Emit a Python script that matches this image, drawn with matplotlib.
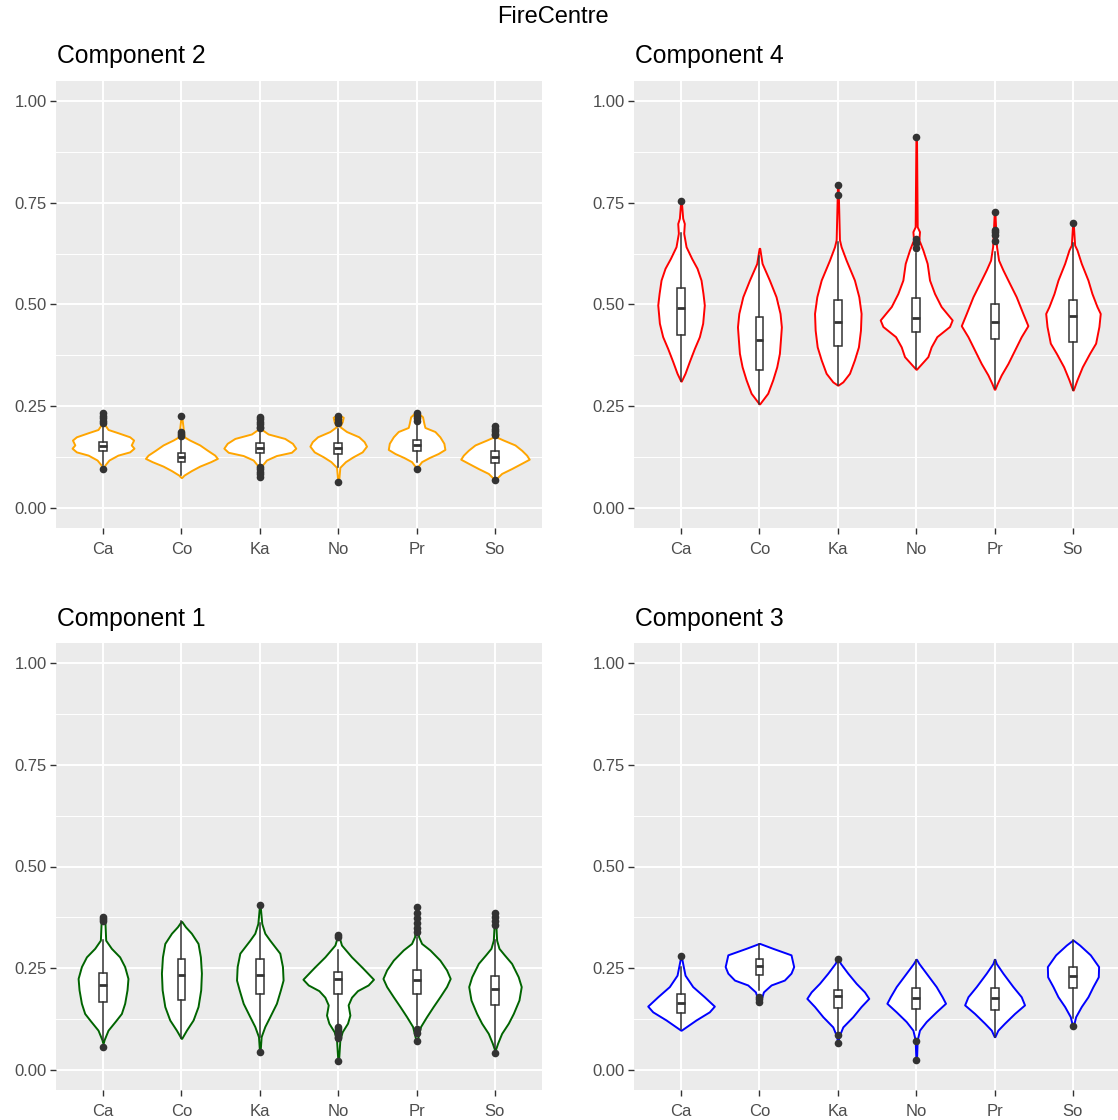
import matplotlib
matplotlib.use("Agg")
import matplotlib.pyplot as plt
import numpy as np

plt.rcParams['font.family'] = ['Liberation Sans', 'DejaVu Sans']

categories = ["Ca", "Co", "Ka", "No", "Pr", "So"]
yticks = [0.00, 0.25, 0.50, 0.75, 1.00]
ytick_labels = ["0.00", "0.25", "0.50", "0.75", "1.00"]

# ---------------- Component 2 (orange) ----------------
c2_prof_y = [
    [0.239, 0.204, 0.193, 0.185, 0.175, 0.167, 0.155, 0.147, 0.138, 0.130, 0.118, 0.106, 0.095],
    [0.226, 0.175, 0.167, 0.155, 0.142, 0.130, 0.122, 0.114, 0.103, 0.092, 0.081, 0.075],
    [0.224, 0.193, 0.182, 0.171, 0.159, 0.147, 0.137, 0.129, 0.118, 0.106, 0.075],
    [0.229, 0.223, 0.212, 0.200, 0.188, 0.175, 0.163, 0.152, 0.138, 0.126, 0.114, 0.100, 0.062],
    [0.237, 0.224, 0.208, 0.198, 0.188, 0.175, 0.159, 0.144, 0.134, 0.124, 0.114, 0.101, 0.094],
    [0.175, 0.167, 0.155, 0.142, 0.130, 0.120, 0.110, 0.097, 0.085, 0.073, 0.065],
]
c2_prof_w = [
    [0.008, 0.025, 0.064, 0.190, 0.340, 0.390, 0.360, 0.395, 0.340, 0.190, 0.076, 0.025, 0.008],
    [0.004, 0.034, 0.106, 0.234, 0.331, 0.425, 0.459, 0.374, 0.234, 0.127, 0.034, 0.004],
    [0.004, 0.025, 0.106, 0.318, 0.416, 0.459, 0.403, 0.212, 0.085, 0.034, 0.004],
    [0.004, 0.064, 0.051, 0.021, 0.106, 0.263, 0.331, 0.361, 0.306, 0.191, 0.093, 0.021, 0.004],
    [0.004, 0.076, 0.093, 0.106, 0.234, 0.297, 0.348, 0.361, 0.276, 0.161, 0.064, 0.013, 0.004],
    [0.013, 0.106, 0.255, 0.340, 0.403, 0.437, 0.340, 0.212, 0.085, 0.021, 0.004],
]
# (whisker low, q1, median, q3, whisker high)
c2_box = [
    (0.105, 0.139, 0.152, 0.163, 0.204),
    (0.081, 0.114, 0.126, 0.136, 0.167),
    (0.106, 0.136, 0.147, 0.159, 0.190),
    (0.100, 0.133, 0.147, 0.160, 0.195),
    (0.114, 0.141, 0.155, 0.167, 0.208),
    (0.077, 0.111, 0.126, 0.141, 0.171),
]
c2_out = [
    [0.233, 0.226, 0.220, 0.214, 0.209, 0.095],
    [0.226, 0.187, 0.181, 0.176],
    [0.224, 0.218, 0.212, 0.206, 0.200, 0.196, 0.101, 0.095, 0.089, 0.083, 0.077],
    [0.225, 0.218, 0.212, 0.208, 0.065],
    [0.233, 0.226, 0.220, 0.214, 0.095],
    [0.201, 0.195, 0.189, 0.183, 0.179, 0.069],
]

# ---------------- Component 4 (red) ----------------
c4_prof_y = [
    [0.754, 0.712, 0.699, 0.675, 0.642, 0.613, 0.589, 0.560, 0.527, 0.499, 0.454, 0.421, 0.392, 0.360, 0.331, 0.312],
    [0.638, 0.601, 0.560, 0.519, 0.478, 0.445, 0.413, 0.380, 0.347, 0.315, 0.282, 0.256],
    [0.794, 0.659, 0.642, 0.609, 0.560, 0.519, 0.478, 0.437, 0.396, 0.364, 0.331, 0.310, 0.302],
    [0.910, 0.691, 0.679, 0.659, 0.634, 0.601, 0.560, 0.527, 0.495, 0.462, 0.446, 0.421, 0.396, 0.372, 0.351, 0.341],
    [0.727, 0.642, 0.609, 0.585, 0.560, 0.519, 0.478, 0.448, 0.421, 0.388, 0.355, 0.327, 0.306, 0.292],
    [0.699, 0.646, 0.634, 0.601, 0.560, 0.527, 0.495, 0.478, 0.446, 0.405, 0.380, 0.347, 0.315, 0.290],
]
c4_prof_w = [
    [0.004, 0.021, 0.042, 0.034, 0.064, 0.136, 0.204, 0.255, 0.280, 0.297, 0.276, 0.234, 0.170, 0.106, 0.051, 0.004],
    [0.004, 0.034, 0.127, 0.212, 0.263, 0.280, 0.268, 0.255, 0.221, 0.170, 0.106, 0.004],
    [0.004, 0.021, 0.042, 0.106, 0.212, 0.268, 0.297, 0.289, 0.263, 0.212, 0.149, 0.064, 0.004],
    [0.004, 0.013, 0.042, 0.034, 0.085, 0.140, 0.170, 0.234, 0.318, 0.459, 0.425, 0.263, 0.191, 0.149, 0.051, 0.004],
    [0.004, 0.025, 0.051, 0.106, 0.170, 0.276, 0.361, 0.425, 0.340, 0.255, 0.170, 0.085, 0.034, 0.004],
    [0.004, 0.021, 0.051, 0.106, 0.191, 0.242, 0.306, 0.348, 0.331, 0.289, 0.212, 0.119, 0.051, 0.004],
]
c4_box = [
    (0.312, 0.425, 0.491, 0.540, 0.675),
    (0.256, 0.339, 0.414, 0.470, 0.618),
    (0.302, 0.397, 0.458, 0.511, 0.654),
    (0.343, 0.433, 0.468, 0.515, 0.626),
    (0.294, 0.415, 0.458, 0.501, 0.630),
    (0.290, 0.409, 0.472, 0.511, 0.650),
]
c4_out = [
    [0.754],
    [],
    [0.794, 0.769],
    [0.912, 0.660, 0.650, 0.640],
    [0.727, 0.683, 0.677, 0.671, 0.655],
    [0.699],
]

# ---------------- Component 1 (dark green) ----------------
c1_prof_y = [
    [0.377, 0.360, 0.319, 0.299, 0.278, 0.254, 0.225, 0.197, 0.164, 0.139, 0.121, 0.098, 0.074, 0.067],
    [0.365, 0.352, 0.336, 0.311, 0.278, 0.238, 0.197, 0.156, 0.123, 0.098, 0.078],
    [0.405, 0.360, 0.336, 0.319, 0.287, 0.254, 0.221, 0.197, 0.164, 0.131, 0.107, 0.082, 0.045],
    [0.332, 0.307, 0.278, 0.252, 0.223, 0.209, 0.195, 0.179, 0.160, 0.135, 0.115, 0.094, 0.074, 0.021],
    [0.401, 0.328, 0.311, 0.295, 0.270, 0.246, 0.225, 0.205, 0.180, 0.156, 0.131, 0.107, 0.070],
    [0.385, 0.319, 0.299, 0.283, 0.262, 0.229, 0.205, 0.172, 0.139, 0.115, 0.090, 0.066, 0.049],
]
c1_prof_w = [
    [0.004, 0.025, 0.034, 0.106, 0.212, 0.276, 0.318, 0.306, 0.276, 0.234, 0.161, 0.064, 0.013, 0.004],
    [0.004, 0.051, 0.127, 0.212, 0.242, 0.255, 0.246, 0.212, 0.149, 0.064, 0.004],
    [0.004, 0.025, 0.064, 0.127, 0.255, 0.289, 0.297, 0.263, 0.212, 0.127, 0.064, 0.017, 0.004],
    [0.004, 0.042, 0.170, 0.306, 0.450, 0.382, 0.246, 0.170, 0.127, 0.149, 0.119, 0.051, 0.021, 0.004],
    [0.004, 0.025, 0.064, 0.170, 0.297, 0.382, 0.429, 0.382, 0.297, 0.212, 0.127, 0.051, 0.004],
    [0.004, 0.021, 0.051, 0.119, 0.212, 0.297, 0.335, 0.306, 0.234, 0.170, 0.085, 0.034, 0.004],
]
c1_box = [
    (0.074, 0.168, 0.209, 0.239, 0.320),
    (0.078, 0.172, 0.234, 0.274, 0.365),
    (0.082, 0.188, 0.234, 0.272, 0.360),
    (0.110, 0.187, 0.223, 0.242, 0.295),
    (0.110, 0.187, 0.221, 0.246, 0.328),
    (0.053, 0.160, 0.200, 0.231, 0.320),
]
c1_out = [
    [0.377, 0.371, 0.365, 0.057],
    [],
    [0.405, 0.045],
    [0.332, 0.326, 0.106, 0.100, 0.094, 0.088, 0.082, 0.078, 0.021],
    [0.401, 0.385, 0.373, 0.360, 0.348, 0.338, 0.102, 0.090, 0.071],
    [0.385, 0.377, 0.365, 0.356, 0.043],
]

# ---------------- Component 3 (blue) ----------------
c3_prof_y = [
    [0.279, 0.258, 0.233, 0.205, 0.180, 0.157, 0.143, 0.123, 0.106, 0.098],
    [0.311, 0.299, 0.283, 0.254, 0.238, 0.221, 0.209, 0.192, 0.168],
    [0.274, 0.262, 0.238, 0.213, 0.192, 0.176, 0.156, 0.131, 0.106, 0.082, 0.066],
    [0.272, 0.262, 0.238, 0.205, 0.180, 0.164, 0.143, 0.119, 0.098, 0.074, 0.025],
    [0.272, 0.262, 0.238, 0.205, 0.180, 0.160, 0.139, 0.115, 0.098, 0.082],
    [0.319, 0.307, 0.283, 0.254, 0.229, 0.205, 0.180, 0.156, 0.131, 0.107],
]
c3_prof_w = [
    [0.004, 0.025, 0.051, 0.149, 0.297, 0.425, 0.361, 0.191, 0.064, 0.004],
    [0.004, 0.170, 0.403, 0.437, 0.403, 0.318, 0.149, 0.051, 0.013],
    [0.004, 0.034, 0.127, 0.234, 0.340, 0.395, 0.297, 0.191, 0.064, 0.013, 0.004],
    [0.004, 0.034, 0.127, 0.255, 0.331, 0.374, 0.255, 0.127, 0.042, 0.013, 0.004],
    [0.004, 0.021, 0.106, 0.234, 0.340, 0.382, 0.255, 0.127, 0.042, 0.004],
    [0.004, 0.085, 0.221, 0.327, 0.323, 0.255, 0.191, 0.106, 0.034, 0.004],
]
c3_box = [
    (0.102, 0.139, 0.164, 0.187, 0.254),
    (0.197, 0.233, 0.256, 0.272, 0.310),
    (0.094, 0.153, 0.182, 0.197, 0.266),
    (0.098, 0.149, 0.176, 0.201, 0.270),
    (0.082, 0.147, 0.176, 0.201, 0.270),
    (0.127, 0.201, 0.231, 0.254, 0.319),
]
c3_out = [
    [0.280],
    [0.180, 0.174, 0.168],
    [0.274, 0.086, 0.066],
    [0.072, 0.025],
    [],
    [0.108],
]

panels = [
    ("Component 2", "orange", c2_prof_y, c2_prof_w, c2_box, c2_out),
    ("Component 4", "red", c4_prof_y, c4_prof_w, c4_box, c4_out),
    ("Component 1", "darkgreen", c1_prof_y, c1_prof_w, c1_box, c1_out),
    ("Component 3", "blue", c3_prof_y, c3_prof_w, c3_box, c3_out),
]

W, H = 1118, 1120
fig = plt.figure(figsize=(W / 100, H / 100), dpi=100)

# panel rectangles in pixels (left, top, right, bottom)
rects = [
    (56, 80.6, 542, 528.4),
    (634, 80.6, 1120, 528.4),
    (56, 642.6, 542, 1090.4),
    (634, 642.6, 1120, 1090.4),
]
title_pos = [(57, 56), (635, 56), (57, 619), (635, 619)]

fig.text(553 / W, 1 - 17 / H, "FireCentre", ha="center", va="center",
         fontsize=17, color="black")

grey20 = "#333333"
for (title, col, py, pw, box, outs), (l, t, r, b), (tx, ty) in zip(panels, rects, title_pos):
    ax = fig.add_axes([l / W, 1 - b / H, (r - l) / W, (b - t) / H])
    ax.set_facecolor("#EBEBEB")
    for s in ax.spines.values():
        s.set_visible(False)
    ax.set_xlim(0.4, 6.6)
    ax.set_ylim(-0.05, 1.05)
    ax.set_yticks(yticks)
    ax.set_yticklabels(ytick_labels)
    ax.set_yticks([0.125, 0.375, 0.625, 0.875], minor=True)
    pos = np.arange(1, len(categories) + 1)
    ax.grid(True, which="major", color="white", lw=1.4)
    ax.grid(True, which="minor", axis="y", color="white", lw=0.7)
    ax.set_axisbelow(True)

    for i in range(len(categories)):
        yv = np.array(py[i])
        wv = np.array(pw[i])
        c = pos[i]
        ax.fill_betweenx(yv, c - wv, c + wv, facecolor="white",
                         edgecolor=col, lw=1.4, zorder=2)

    stats = []
    for i in range(len(categories)):
        lo, q1, med, q3, hi = box[i]
        stats.append(dict(whislo=lo, q1=q1, med=med, q3=q3, whishi=hi,
                          fliers=outs[i]))
    ax.bxp(stats, positions=pos, widths=0.1, showcaps=False, patch_artist=True,
           boxprops=dict(facecolor="white", edgecolor=grey20, lw=1.1),
           whiskerprops=dict(color=grey20, lw=1.1),
           medianprops=dict(color=grey20, lw=2.0),
           flierprops=dict(marker="o", markerfacecolor=grey20,
                           markeredgecolor="none", markersize=5.5),
           zorder=3)
    ax.set_xlim(0.4, 6.6)
    ax.set_xticks(pos)
    ax.set_xticklabels(categories)
    ax.tick_params(which="major", length=4.3, width=1.0, color=grey20,
                   labelcolor="#4D4D4D", labelsize=12)
    ax.tick_params(axis="x", which="major", pad=5.5)
    ax.tick_params(axis="y", which="major", pad=2.2)
    ax.tick_params(which="minor", length=0)

    fig.text(tx / W, 1 - ty / H, title, ha="left", va="center",
             fontsize=17.8, color="black")

fig.savefig("out.png", dpi=100)
